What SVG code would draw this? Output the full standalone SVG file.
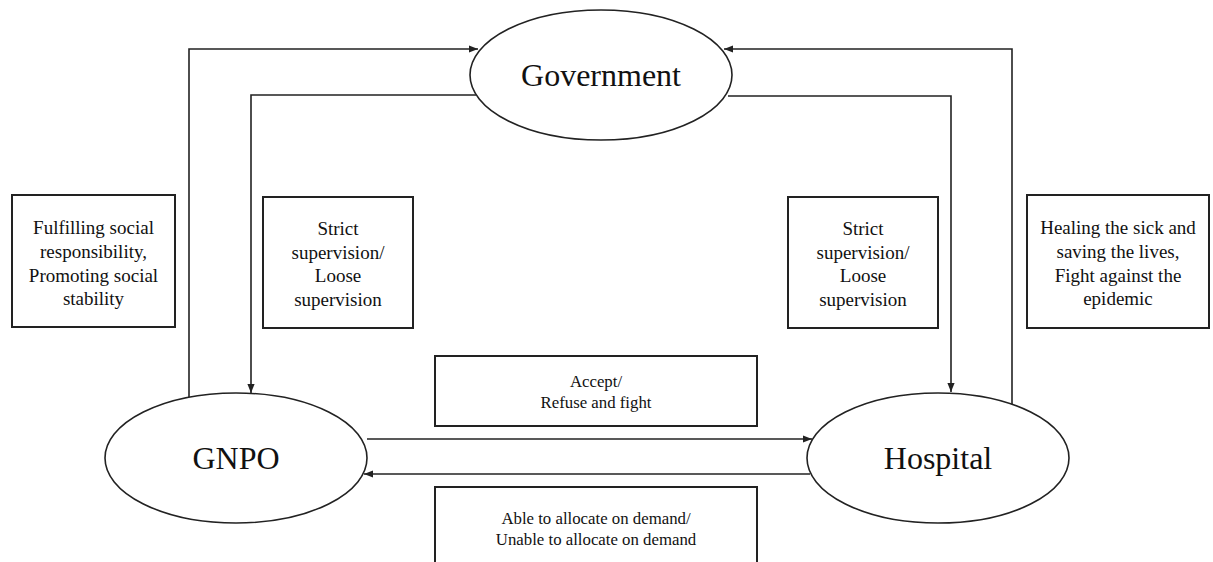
<svg xmlns="http://www.w3.org/2000/svg" width="1213" height="562" viewBox="0 0 1213 562">
<style>
.node{fill:#fff;stroke:#222;stroke-width:1.6}
.box{fill:#fff;stroke:#222;stroke-width:2}
.ln{fill:none;stroke:#222;stroke-width:1.6}
.big{font-family:"Liberation Serif",serif;font-size:32px;fill:#111;text-anchor:middle}
.t1{font-family:"Liberation Serif",serif;font-size:19px;fill:#111;text-anchor:middle}
.t2{font-family:"Liberation Serif",serif;font-size:16.8px;fill:#111;text-anchor:middle}
</style>
<defs>
<marker id="ah" viewBox="0 0 10 10" refX="10" refY="5" markerWidth="9" markerHeight="9" markerUnits="userSpaceOnUse" orient="auto">
<path d="M0,1 L10,5 L0,9 Z" fill="#222"/>
</marker>
</defs>
<rect width="1213" height="562" fill="#fff"/>
<g id="connectors">
<path class="ln" d="M189,397 V49 H478" marker-end="url(#ah)"/>
<path class="ln" d="M476,95 H251 V393" marker-end="url(#ah)"/>
<path class="ln" d="M1012,404 V49 H724" marker-end="url(#ah)"/>
<path class="ln" d="M728,96 H951 V392" marker-end="url(#ah)"/>
<path class="ln" d="M367,439 H812" marker-end="url(#ah)"/>
<path class="ln" d="M810,474 H364" marker-end="url(#ah)"/>
</g>
<g id="government">
<ellipse class="node" cx="601" cy="75" rx="131" ry="65"/>
<text class="big" x="601" y="86">Government</text>
</g>
<g id="gnpo">
<ellipse class="node" cx="236" cy="458" rx="131" ry="65"/>
<text class="big" x="236" y="469">GNPO</text>
</g>
<g id="hospital">
<ellipse class="node" cx="938" cy="458" rx="131" ry="65"/>
<text class="big" x="938" y="469">Hospital</text>
</g>
<g id="box-gnpo-goal">
<rect class="box" x="12" y="195" width="163" height="132"/>
<text class="t1" x="93.5" y="234">Fulfilling social</text>
<text class="t1" x="93.5" y="258">responsibility,</text>
<text class="t1" x="93.5" y="282">Promoting social</text>
<text class="t1" x="93.5" y="305">stability</text>
</g>
<g id="box-gov-gnpo">
<rect class="box" x="263" y="197" width="150" height="131"/>
<text class="t1" x="338" y="235">Strict</text>
<text class="t1" x="338" y="259">supervision/</text>
<text class="t1" x="338" y="282">Loose</text>
<text class="t1" x="338" y="306">supervision</text>
</g>
<g id="box-gov-hospital">
<rect class="box" x="788" y="197" width="150" height="131"/>
<text class="t1" x="863" y="235">Strict</text>
<text class="t1" x="863" y="259">supervision/</text>
<text class="t1" x="863" y="282">Loose</text>
<text class="t1" x="863" y="306">supervision</text>
</g>
<g id="box-hospital-goal">
<rect class="box" x="1027" y="195" width="182" height="133"/>
<text class="t1" x="1118" y="234">Healing the sick and</text>
<text class="t1" x="1118" y="258">saving the lives,</text>
<text class="t1" x="1118" y="282">Fight against the</text>
<text class="t1" x="1118" y="305">epidemic</text>
</g>
<g id="box-accept">
<rect class="box" x="435" y="356" width="322" height="70"/>
<text class="t2" x="596" y="387">Accept/</text>
<text class="t2" x="596" y="408">Refuse and fight</text>
</g>
<g id="box-allocate">
<rect class="box" x="435" y="487" width="322" height="90"/>
<text class="t2" x="596" y="524">Able to allocate on demand/</text>
<text class="t2" x="596" y="545">Unable to allocate on demand</text>
</g>
</svg>
